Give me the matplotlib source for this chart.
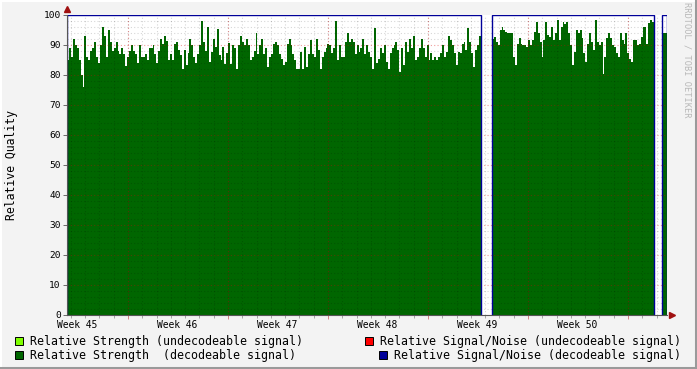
#!/usr/bin/env python3
"""
Relative quality graph (rrdtool style) - strength / signal-noise per week
"""

import numpy as np
import matplotlib.pyplot as plt
from matplotlib.patches import Rectangle
from matplotlib.lines import Line2D

# ---- data ----
weeks = [45, 46, 47, 48, 49, 50]
week_labels = ['Week 45', 'Week 46', 'Week 47', 'Week 48', 'Week 49', 'Week 50']

# recorded periods (in week units)
seg_a = (45.0, 49.14)
seg_b = (49.25, 50.87)
seg_c = (50.95, 50.995)

strength_a = [
    85, 89, 86, 92, 90, 89, 85, 80, 76, 93, 86, 85, 88, 89, 91, 86, 84, 90, 96, 93, 86, 95,
    91, 88, 89, 91, 88, 87, 89, 87, 83, 86, 88, 90, 88, 87, 84, 90, 86, 86, 87, 85, 89,
    89, 90, 87, 84, 88, 92, 90.5, 93, 91.5, 85, 87, 85, 90.5, 91, 88.3, 86.6, 82, 88.3, 83.3,
    87.2, 92, 90, 86, 84, 87, 90, 98, 91, 88, 96, 84.5, 87.7, 92, 89.4, 95.5, 86.6, 85, 89.4,
    83.8, 87.2, 90.7, 83.8, 90,
    89, 82, 90, 93, 91, 90, 92, 90, 85, 86, 88, 94, 87, 90, 92, 87, 89, 82.7, 86, 87, 90.5,
    91, 90, 87, 85.5, 83.3, 84.4, 90.5, 92, 90, 87, 85, 82, 81.9, 87.7, 82, 89.4, 82.7, 87,
    91.6, 87, 86, 92, 88.3,
    82, 86, 87.7, 88.9, 90.5, 90, 87.2, 88.9, 98, 85, 90, 86, 86, 91, 94, 91, 92, 91, 87, 90,
    87.7, 88.9, 92, 87, 90, 87.7, 86, 82, 95.8, 84, 85.5, 88.9, 87.2, 90, 84.4, 82, 87.2, 88.9,
    90, 91, 88.3, 81, 88.9, 83.3, 91, 87.7,
    91.9, 88.9, 93, 85, 86, 88.9, 91.9, 88.9, 86, 90, 85, 87.2, 85, 86, 85, 86, 87.2, 90, 86,
    87.7, 93, 91.6, 90, 87.2, 83.3, 87.7, 87.2, 90.5, 91, 88.3, 95.8, 91, 87.2, 82.7, 88.3, 90, 93,
]
strength_b = [
    92, 92.7, 91, 90, 95, 96, 95, 94.4, 93.9, 93.9, 93.9, 86, 83.3, 90.5, 92.2, 90.5, 90, 90,
    89.4, 91.6, 90, 91.6, 94.4, 97.7, 93.9, 91, 86, 91.6, 97.7, 93.3, 92.7, 96, 91.6, 93.9, 98.3,
    91.6, 96, 97.7, 97, 97.7, 93.9, 90, 83.3, 87.7, 95, 93.9, 95,
    92.2, 87.2, 84.4, 90.5, 93.9, 91, 88.3, 98.3, 91, 90, 91, 80.5, 86, 92.2, 93.9, 92.2, 90,
    89.4, 87.2, 86, 93.9, 91.6, 90.5, 93.9, 87.2, 85.5, 84.4, 91.6, 91.6, 90, 90.5, 92.7, 96, 96,
    90.5, 97.2, 98.3, 97.7,
]
strength_c = [93.9, 93.9]
snr_level = 100  # relative S/N of decodeable signal

legend_labels = ['Relative Strength (undecodeable signal)',
                 'Relative Strength  (decodeable signal)',
                 'Relative Signal/Noise (undecodeable signal)',
                 'Relative Signal/Noise (decodeable signal)']
legend_colors = ['#7fff00', '#006600', '#ff0000', '#000099']

W, H = 697, 369
BG = '#f3f3f3'
MONO = 'DejaVu Sans Mono'

fig = plt.figure(figsize=(W / 100, H / 100), dpi=100, facecolor=BG)
ax = fig.add_axes([67 / W, (H - 315) / H, 600 / W, 300 / H])
ax.set_facecolor('white')

# strength areas and S/N outline
for seg, vals in [(seg_a, strength_a), (seg_b, strength_b), (seg_c, strength_c)]:
    edges = np.linspace(seg[0], seg[1], len(vals) + 1)
    ax.stairs(vals, edges, fill=True, color=legend_colors[1], zorder=2, lw=0)
    ax.stairs([snr_level], [seg[0], seg[1]], baseline=0, color=legend_colors[3],
              lw=1.0, zorder=4)

ax.set_xlim(45, 51)
ax.set_ylim(0, 100)

# grid: minor every day, major (red) once a week, horizontal every 2 / 10
day = 1 / 7
xmaj = np.array(weeks) + 0.61
xmin = np.arange(45.61 - 4 * day, 51, day)
for x in xmin:
    ax.axvline(x, color=(0, 0, 0, 0.16), lw=0.8, ls=(0, (1, 2)), zorder=3)
for x in xmaj:
    ax.axvline(x, color=(0.85, 0, 0, 0.38), lw=0.8, ls=(0, (1, 2)), zorder=3)
for y in range(2, 100, 2):
    if y % 10:
        ax.axhline(y, color=(0, 0, 0, 0.16), lw=0.8, ls=(0, (1, 2)), zorder=3)
for y in range(10, 100, 10):
    ax.axhline(y, color=(0.85, 0, 0, 0.38), lw=0.8, ls=(0, (1, 2)), zorder=3)

for s in ['top', 'right']:
    ax.spines[s].set_visible(False)
for s in ['left', 'bottom']:
    ax.spines[s].set_color('#555555')
    ax.spines[s].set_linewidth(0.8)
    ax.spines[s].set_zorder(5)

ax.set_yticks(range(0, 101, 10))
ax.set_yticklabels([str(v) for v in range(0, 101, 10)], fontfamily=MONO, fontsize=6.8)
ax.set_xticks(xmaj)
ax.set_xticks(xmin, minor=True)
ax.set_xticklabels([])
ax.tick_params(axis='y', length=3, width=0.6, color='#555555', pad=1.5)
ax.tick_params(axis='x', which='major', length=3, width=0.6, color='#d07070')
ax.tick_params(axis='x', which='minor', length=2, width=0.6, color='#999999')

for w, lab in zip(weeks, week_labels):
    ax.text(w + 0.105, -3.3, lab, ha='center', va='center', fontfamily=MONO,
            fontsize=6.9, transform=ax.transData)

# axis arrows
ax.plot([0], [1.02], marker='^', ms=4, color='#a01010', transform=ax.transAxes,
        clip_on=False, zorder=6)
ax.plot([1.008], [0], marker='>', ms=4, color='#a01010', transform=ax.transAxes,
        clip_on=False, zorder=6)

fig.text(12 / W, 1 - 165 / H, 'Relative Quality', rotation=90, ha='center', va='center',
         fontfamily=MONO, fontsize=8.3)
fig.text(687 / W, 1 - 60 / H, 'RRDTOOL / TOBI OETIKER', rotation=270, ha='center',
         va='center', fontfamily=MONO, fontsize=6.2, color='#b8b8b8')

# legend
rows = [(15, 30, 341), (15, 30, 355), (365, 380, 341), (379, 394, 355)]
for (sx, tx, cy), lab, col in zip(rows, legend_labels, legend_colors):
    fig.add_artist(Rectangle((sx / W, 1 - (cy + 4) / H), 8 / W, 8 / H, facecolor=col,
                             edgecolor='black', lw=0.7, transform=fig.transFigure))
    fig.text(tx / W, 1 - cy / H, lab, ha='left', va='center', fontfamily=MONO, fontsize=8.35)

# shaded frame
fig.add_artist(Line2D([0, 1], [1 - 0.5 / H, 1 - 0.5 / H], color='white', lw=1.5,
                      transform=fig.transFigure))
fig.add_artist(Line2D([0.5 / W, 0.5 / W], [0, 1], color='white', lw=1.5,
                      transform=fig.transFigure))
fig.add_artist(Line2D([1 - 1.5 / W, 1 - 1.5 / W], [0, 1], color='#9a9a9a', lw=2.2,
                      transform=fig.transFigure))
fig.add_artist(Line2D([0, 1], [1.5 / H, 1.5 / H], color='#9a9a9a', lw=2.2,
                      transform=fig.transFigure))

fig.savefig('out.png', dpi=100, facecolor=BG)
plt.close(fig)
